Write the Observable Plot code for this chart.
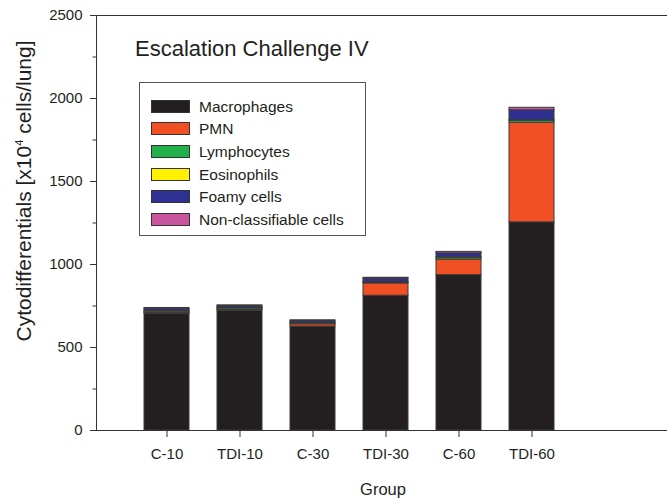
<!DOCTYPE html>
<html>
<head>
<meta charset="utf-8">
<script src="https://cdn.jsdelivr.net/npm/d3@7"></script>
<script src="https://cdn.jsdelivr.net/npm/@observablehq/plot@0.6"></script>
<style>
  html, body { margin: 0; padding: 0; background: #fff; }
  #wrap { position: relative; width: 667px; height: 501px; font-family: "Liberation Sans", Arial, sans-serif; color: #231f20; }
  #wrap svg { position: absolute; left: 0; top: 0; }
  .ov { position: absolute; white-space: nowrap; }
  #legend { position: absolute; left: 139px; top: 82px; width: 227px; height: 154px; border: 1px solid #555; box-sizing: border-box; background: #fff; }
  .row { position: absolute; left: 11px; height: 14px; width: 210px; font-size: 15.5px; line-height: 14px; white-space: nowrap; }
  .sw { position: absolute; left: 0; top: 0; width: 39px; height: 13px; border: 1px solid #333; box-sizing: border-box; }
  .lt { position: absolute; left: 48px; top: 0; }
</style>
</head>
<body>
<div id="wrap"></div>
<script>
const groups = ["C-10", "TDI-10", "C-30", "TDI-30", "C-60", "TDI-60"];
const cellTypes = ["Macrophages", "PMN", "Lymphocytes", "Eosinophils", "Foamy cells", "Non-classifiable cells"];
const colors = ["#231f20", "#f05023", "#22b04b", "#fff200", "#2e3192", "#c9559f"];
const macrophages = [704, 722, 626, 812, 936, 1254];
const pmn = [4, 6, 14, 74, 94, 600];
const lymphocytes = [8, 8, 7, 6, 10, 12];
const eosinophils = [3, 2, 2, 2, 3, 3];
const foamy = [12, 10, 10, 20, 24, 60];
const nonClass = [7, 6, 5, 6, 9, 15];
const yTicks = [0, 500, 1000, 1500, 2000, 2500];
const yMinorTicks = [250, 750, 1250, 1750, 2250];

const series = [macrophages, pmn, lymphocytes, eosinophils, foamy, nonClass];
const data = [];
cellTypes.forEach((t, k) => groups.forEach((g, i) => data.push({group: g, type: t, value: series[k][i]})));

const plot = Plot.plot({
  width: 667,
  height: 501,
  marginLeft: 96,
  marginRight: 0,
  marginTop: 15,
  marginBottom: 71,
  style: {fontFamily: "'Liberation Sans', Arial, sans-serif", fontSize: "15px", color: "#231f20", background: "transparent"},
  x: {domain: groups, range: [130, 568.8], paddingInner: 0.385, paddingOuter: 0.1925, label: null},
  y: {domain: [0, 2500], label: null},
  color: {domain: cellTypes, range: colors},
  marks: [
    Plot.barY(data, {x: "group", y: "value", fill: "type", stroke: "#3a3838", strokeWidth: 1}),
    Plot.ruleY([0, 2500], {stroke: "#333", strokeWidth: 1}),
    Plot.axisY({ticks: yTicks, tickSize: 6, tickPadding: 8, tickFormat: d => String(d), stroke: "#333", fontSize: 15, fill: "#231f20"}),
    Plot.axisY({ticks: yMinorTicks, tickSize: 3.5, tickFormat: () => "", stroke: "#333"}),
    Plot.axisX({tickSize: 7, tickPadding: 11, stroke: "#333", fontSize: 15, fill: "#231f20"})
  ]
});
const wrap = document.getElementById("wrap");
wrap.appendChild(plot);
d3.select(plot).append("line")
  .attr("x1", 96.5).attr("x2", 96.5).attr("y1", 15).attr("y2", 430)
  .attr("stroke", "#333").attr("stroke-width", 1);

function addText(html, css) {
  const d = document.createElement("div");
  d.className = "ov";
  d.innerHTML = html;
  Object.assign(d.style, css);
  wrap.appendChild(d);
  return d;
}
addText("Escalation Challenge IV", {left: "135px", top: "36px", fontSize: "22px"});
addText("Group", {left: "383px", top: "480px", fontSize: "16.5px", transform: "translateX(-50%)"});
addText("Cytodifferentials [x10<sup style='font-size:11px;vertical-align:8px'>4</sup> cells/lung]",
  {left: "24px", top: "191px", fontSize: "21px", transform: "translate(-50%,-50%) rotate(-90deg)"});

const legend = document.createElement("div");
legend.id = "legend";
cellTypes.forEach((t, i) => {
  const r = document.createElement("div");
  r.className = "row";
  r.style.top = (16.5 + i * 22.7) + "px";
  r.innerHTML = `<div class="sw" style="background:${colors[i]}"></div><div class="lt">${t}</div>`;
  legend.appendChild(r);
});
wrap.appendChild(legend);
</script>
</body>
</html>
